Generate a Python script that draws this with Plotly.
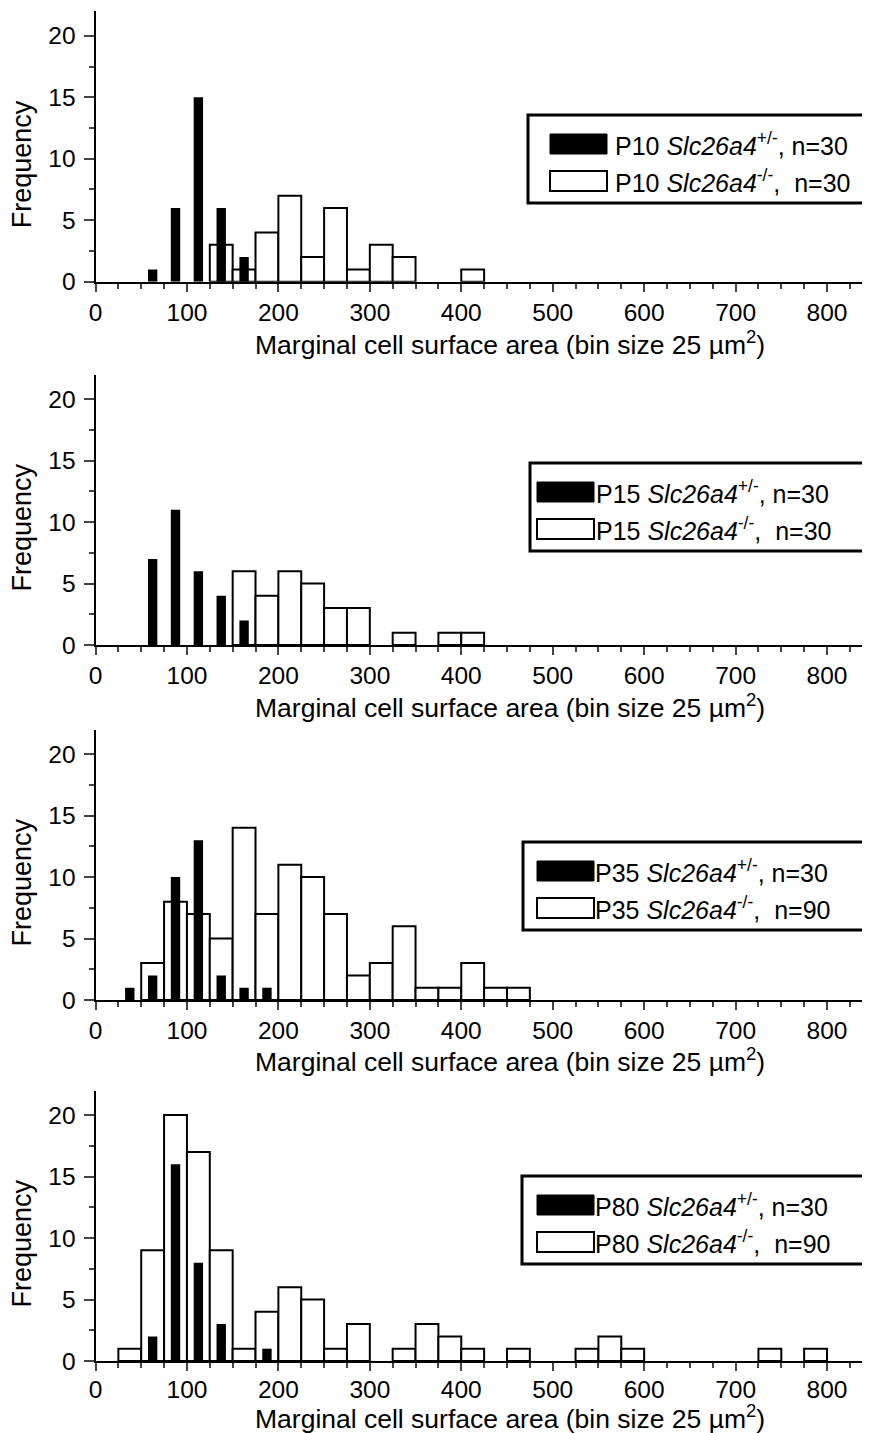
import plotly.graph_objects as go

# ---------------- data (bin lower edges, counts; bin size 25) ----------------
BIN = 25
panel_labels = ["P10", "P15", "P35", "P80"]
het_n = [30, 30, 30, 30]
ko_n = [30, 30, 90, 90]

p10_het_bins = [50, 75, 100, 125, 150]
p10_het_counts = [1, 6, 15, 6, 2]
p10_ko_bins = [125, 150, 175, 200, 225, 250, 275, 300, 325, 400]
p10_ko_counts = [3, 1, 4, 7, 2, 6, 1, 3, 2, 1]

p15_het_bins = [50, 75, 100, 125, 150]
p15_het_counts = [7, 11, 6, 4, 2]
p15_ko_bins = [150, 175, 200, 225, 250, 275, 325, 375, 400]
p15_ko_counts = [6, 4, 6, 5, 3, 3, 1, 1, 1]

p35_het_bins = [25, 50, 75, 100, 125, 150, 175]
p35_het_counts = [1, 2, 10, 13, 2, 1, 1]
p35_ko_bins = [50, 75, 100, 125, 150, 175, 200, 225, 250, 275, 300, 325, 350, 375, 400, 425, 450]
p35_ko_counts = [3, 8, 7, 5, 14, 7, 11, 10, 7, 2, 3, 6, 1, 1, 3, 1, 1]

p80_het_bins = [50, 75, 100, 125, 175]
p80_het_counts = [2, 16, 8, 3, 1]
p80_ko_bins = [25, 50, 75, 100, 125, 150, 175, 200, 225, 250, 275, 325, 350, 375, 400, 450,
               525, 550, 575, 725, 775]
p80_ko_counts = [1, 9, 20, 17, 9, 1, 4, 6, 5, 1, 3, 1, 3, 2, 1, 1, 1, 2, 1, 1, 1]

x_tickvals = [0, 100, 200, 300, 400, 500, 600, 700, 800]
y_tickvals = [0, 5, 10, 15, 20]
x_title = "Marginal cell surface area (bin size 25 µm<sup>2</sup>)"
y_title = "Frequency"

panels = [
    (p10_het_bins, p10_het_counts, p10_ko_bins, p10_ko_counts),
    (p15_het_bins, p15_het_counts, p15_ko_bins, p15_ko_counts),
    (p35_het_bins, p35_het_counts, p35_ko_bins, p35_ko_counts),
    (p80_het_bins, p80_het_counts, p80_ko_bins, p80_ko_counts),
]

# ---------------- layout geometry (pixels, page body has an 8px margin) ----------------
OFF = 8
W, H = 870 - OFF, 1433 - OFF
X0 = 95.5 - OFF
XMAX = 847
PANEL_H = 270.5
bottoms = [281.7 - OFF, 645.0 - OFF, 1000.0 - OFF, 1361.0 - OFF]
xtitle_gap = [61, 61, 60, 56]
xlabel_shift = [0, 0, 0, -2]
FONT = "Liberation Sans, Arial, sans-serif"

# legend boxes: (left, top) in px; swatch x, text x
leg_left = [528 - OFF, 530 - OFF, 523 - OFF, 522 - OFF]
leg_top = [115 - OFF, 463 - OFF, 842 - OFF, 1176 - OFF]
sw_left = [550 - OFF, 537 - OFF, 537 - OFF, 537 - OFF]
text_left = [613 - OFF, 594 - OFF, 593 - OFF, 593 - OFF]

fig = go.Figure()
layout = dict(
    width=W, height=H, autosize=False,
    margin=dict(l=0, r=0, t=0, b=0),
    paper_bgcolor="white", plot_bgcolor="white",
    barmode="overlay", showlegend=False,
    font=dict(family=FONT, color="black", size=25),
)
shapes = []
annotations = []

for i, (hb, hc, kb, kc) in enumerate(panels):
    k = "" if i == 0 else str(i + 1)
    xa, ya = "x" + k, "y" + k
    fig.add_trace(go.Bar(
        x=[b + BIN / 2 for b in kb], y=kc, width=BIN,
        marker=dict(color="white", line=dict(color="black", width=2)),
        xaxis=xa, yaxis=ya, name=f"{panel_labels[i]} Slc26a4-/-",
    ))
    fig.add_trace(go.Bar(
        x=[b + BIN / 2 for b in hb], y=hc, width=BIN * 0.41,
        marker=dict(color="black", line=dict(color="black", width=0)),
        xaxis=xa, yaxis=ya, name=f"{panel_labels[i]} Slc26a4+/-",
    ))
    bot = bottoms[i]
    top = bot - PANEL_H
    layout["xaxis" + k] = dict(
        domain=[X0 / W, 1.0], range=[0, XMAX], anchor=ya, automargin=False,
        tickvals=x_tickvals, ticks="outside", ticklen=8, tickwidth=2,
        ticklabelstandoff=xlabel_shift[i],
        minor=dict(ticks="outside", ticklen=5, tickwidth=1.5, dtick=25, tick0=0, showgrid=False),
        showline=True, linecolor="black", linewidth=2,
        showgrid=False, zeroline=False,
        tickfont=dict(size=24.5, family=FONT),
    )
    layout["yaxis" + k] = dict(
        domain=[1 - bot / H, 1 - top / H], range=[0, 22], anchor=xa, automargin=False,
        tickvals=y_tickvals, ticks="outside", ticklen=10, tickwidth=2,
        ticklabelstandoff=3,
        minor=dict(ticks="outside", ticklen=5, tickwidth=1.5, dtick=2.5, tick0=0, showgrid=False),
        showline=True, linecolor="black", linewidth=2,
        showgrid=False, zeroline=False,
        tickfont=dict(size=24.5, family=FONT),
    )

    # axis titles (placed as in the cropped original)
    annotations.append(dict(
        xref="paper", yref="paper", x=(509.5 - OFF) / W, y=1 - (bot + xtitle_gap[i]) / H,
        xanchor="center", yanchor="middle", showarrow=False,
        text=x_title, font=dict(size=26.5, family=FONT, color="black")))
    annotations.append(dict(
        xref="paper", yref="paper", x=(21.5 - OFF) / W, y=1 - (bot - 117) / H,
        xanchor="center", yanchor="middle", showarrow=False, textangle=-90,
        text=y_title, font=dict(size=27, family=FONT, color="black")))

    # legend box (drawn with shapes / annotations)
    lt = leg_top[i]
    shapes.append(dict(type="rect", xref="paper", yref="paper",
                       x0=leg_left[i] / W, x1=(W + 20) / W,
                       y0=1 - lt / H, y1=1 - (lt + 88) / H,
                       line=dict(color="black", width=3), fillcolor="white", layer="above"))
    shapes.append(dict(type="rect", xref="paper", yref="paper",
                       x0=sw_left[i] / W, x1=(sw_left[i] + 57) / W,
                       y0=1 - (lt + 19) / H, y1=1 - (lt + 39) / H,
                       line=dict(color="black", width=1), fillcolor="black", layer="above"))
    shapes.append(dict(type="rect", xref="paper", yref="paper",
                       x0=sw_left[i] / W, x1=(sw_left[i] + 57) / W,
                       y0=1 - (lt + 56) / H, y1=1 - (lt + 76) / H,
                       line=dict(color="black", width=2), fillcolor="white", layer="above"))
    annotations.append(dict(
        xref="paper", yref="paper", x=text_left[i] / W, y=1 - (lt + 29) / H,
        xanchor="left", yanchor="middle", showarrow=False,
        text=f"{panel_labels[i]} <i>Slc26a4</i><sup>+/-</sup>, n={het_n[i]}",
        font=dict(size=25, family=FONT, color="black")))
    annotations.append(dict(
        xref="paper", yref="paper", x=text_left[i] / W, y=1 - (lt + 66) / H,
        xanchor="left", yanchor="middle", showarrow=False,
        text=f"{panel_labels[i]} <i>Slc26a4</i><sup>-/-</sup>,\u00a0 n={ko_n[i]}",
        font=dict(size=25, family=FONT, color="black")))

layout["shapes"] = shapes
layout["annotations"] = annotations
fig.update_layout(**layout)
fig.write_html("out.html")
